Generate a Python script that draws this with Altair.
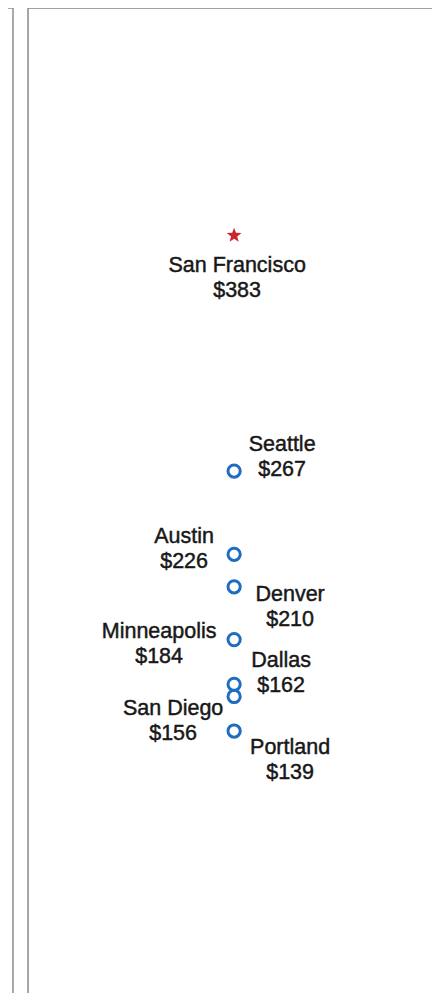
import math
import altair as alt
import pandas as pd

# ---- data ----
cities = ["San Francisco", "Seattle", "Austin", "Denver",
          "Minneapolis", "Dallas", "San Diego", "Portland"]
values = [383, 267, 226, 210, 184, 162, 156, 139]
highlight = ["San Francisco"]

df = pd.DataFrame({"city": cities, "value": values})
df["pos"] = 0
df["label"] = df["city"] + "\n$" + df["value"].astype(str)

# ---- layout / style ----
W, H = 404, 985
FONT = "Liberation Sans, Arial, sans-serif"
BLUE = "#1f6cc1"
RED = "#c8282e"
GRAY = "#8c8c8c"
TXT = "#181818"

# label offsets (dx of block centre, dy of first line from the point)
label_offsets = {
    "San Francisco": (3, 31),
    "Seattle": (48, -26),
    "Austin": (-50, -17),
    "Denver": (56, 8),
    "Minneapolis": (-75, -8),
    "Dallas": (47, -23),
    "San Diego": (-61, 13),
    "Portland": (56, 17),
}

# star path inside [-1, 1]
pts = []
for k in range(10):
    r = 1.0 if k % 2 == 0 else 0.42
    a = math.radians(-90 + 36 * k)
    pts.append(f"{r*math.cos(a):.3f},{r*math.sin(a):.3f}")
STAR = "M" + " L".join(pts) + " Z"

x_enc = alt.X("pos:Q", scale=alt.Scale(domain=[-1.0, 0.96], nice=False, zero=False), axis=None)
y_enc = alt.Y("value:Q", scale=alt.Scale(domain=[10, 495], nice=False, zero=False), axis=None)

base = alt.Chart(df).encode(x=x_enc, y=y_enc)

circles = base.transform_filter(
    alt.FieldOneOfPredicate(field="city", oneOf=highlight).__invert__()
).mark_point(shape="circle", filled=False, size=150, strokeWidth=3, color=BLUE, opacity=1)

star = base.transform_filter(
    alt.FieldOneOfPredicate(field="city", oneOf=highlight)
).mark_point(shape=STAR, filled=True, size=240, color=RED, strokeWidth=0, opacity=1)

texts = []
for c in cities:
    dx, dy = label_offsets[c]
    texts.append(
        base.transform_filter(alt.datum.city == c).mark_text(
            align="center", baseline="middle", lineBreak="\n", lineHeight=25,
            dx=dx, dy=dy, font=FONT, fontSize=21.5, color=TXT,
            stroke=TXT, strokeWidth=0.45
        ).encode(text="label:N")
    )

one = alt.Data(values=[{"k": 0}])
frame = [
    alt.Chart(one).mark_rule(color=GRAY, strokeWidth=1.5).encode(
        x=alt.value(0), y=alt.value(0), y2=alt.value(H)),
    alt.Chart(one).mark_rule(color=GRAY, strokeWidth=1.5).encode(
        x=alt.value(0), x2=alt.value(W), y=alt.value(0)),
    alt.Chart(one).mark_rule(color=GRAY, strokeWidth=1.5).encode(
        x=alt.value(-15), y=alt.value(0), y2=alt.value(H)),
    alt.Chart(one).mark_rule(color=GRAY, strokeWidth=1.5).encode(
        x=alt.value(-20), x2=alt.value(-15), y=alt.value(0)),
]

chart = alt.layer(*frame, circles, star, *texts).properties(
    width=W, height=H,
    autosize=alt.AutoSizeParams(type="none"),
    padding={"left": 20, "top": 0, "right": 0, "bottom": 0},
).configure_view(stroke=None).configure(background="white")

chart.save("out.html", embed_options={"renderer": "svg", "actions": False})
